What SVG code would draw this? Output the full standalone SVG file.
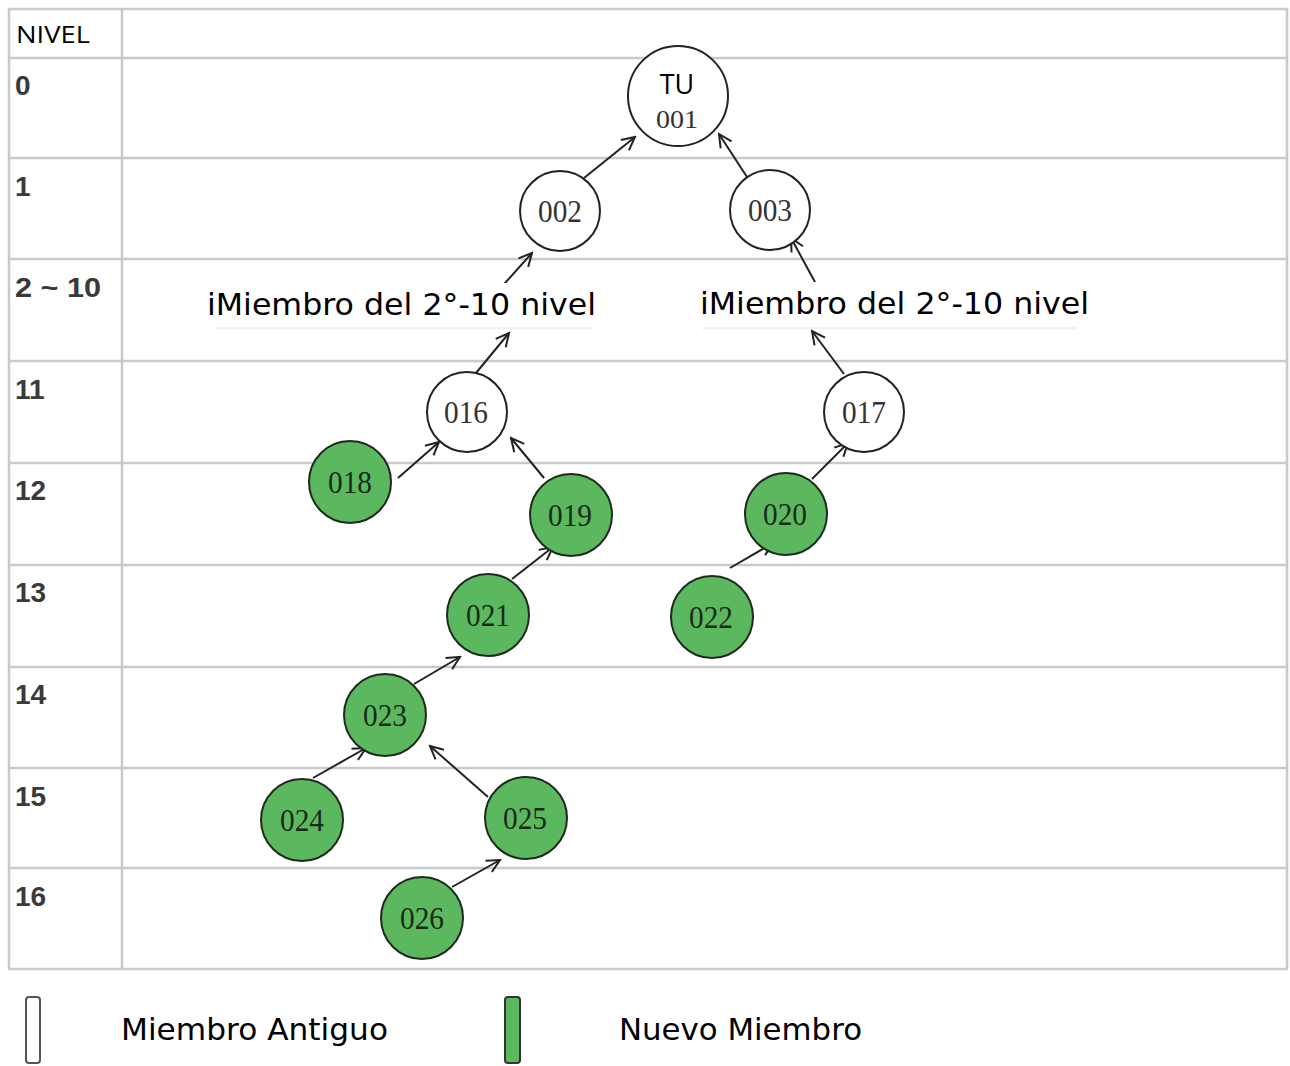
<svg xmlns="http://www.w3.org/2000/svg" width="1290" height="1066" viewBox="0 0 1290 1066">
<style>
.grid{stroke:#c9c9c9;stroke-width:2.5;fill:none}
.lvl{font-family:"Liberation Sans",Arial,sans-serif;font-size:28px;font-weight:bold;fill:#3a3a3a}
.old{fill:#ffffff;stroke:#222;stroke-width:2}
.new{fill:#5cb85f;stroke:#1e2a1e;stroke-width:2}
.num{font-family:"Liberation Serif","Times New Roman",serif;font-size:31px;fill:#333;text-anchor:middle}
.numg{font-family:"Liberation Serif","Times New Roman",serif;font-size:31px;fill:#1a2a1a;text-anchor:middle}
.lbl{font-family:"DejaVu Sans",sans-serif;font-size:31px;fill:#000}
.conn line{stroke:#222;stroke-width:2;marker-end:url(#arr)}
</style>
<defs>
<marker id="arr" markerUnits="userSpaceOnUse" markerWidth="16" markerHeight="16" viewBox="0 0 16 16" refX="14" refY="8" orient="auto">
<path d="M1,1.5 L14,8 L1,14.5" fill="none" stroke="#222" stroke-width="2"/>
</marker>
</defs>
<rect width="1290" height="1066" fill="#fff"/>
<g id="grid">
<rect class="grid" x="9" y="9" width="1278" height="960"/>
<line class="grid" x1="122" y1="9" x2="122" y2="969"/>
<line class="grid" x1="9" y1="58" x2="1287" y2="58"/>
<line class="grid" x1="9" y1="158" x2="1287" y2="158"/>
<line class="grid" x1="9" y1="259" x2="1287" y2="259"/>
<line class="grid" x1="9" y1="361" x2="1287" y2="361"/>
<line class="grid" x1="9" y1="463" x2="1287" y2="463"/>
<line class="grid" x1="9" y1="565" x2="1287" y2="565"/>
<line class="grid" x1="9" y1="667" x2="1287" y2="667"/>
<line class="grid" x1="9" y1="768" x2="1287" y2="768"/>
<line class="grid" x1="9" y1="868" x2="1287" y2="868"/>
</g>
<g id="levels">
<rect x="14" y="18" width="78" height="31" fill="#fff"/>
<text x="16" y="43" font-family="'Open Sans','DejaVu Sans',sans-serif" font-size="23" fill="#000" textLength="74" lengthAdjust="spacingAndGlyphs">NIVEL</text>
<text class="lvl" x="15" y="95">0</text>
<text class="lvl" x="15" y="196">1</text>
<text class="lvl" x="15" y="297" textLength="86" lengthAdjust="spacingAndGlyphs">2 ~ 10</text>
<text class="lvl" x="15" y="399">11</text>
<text class="lvl" x="15" y="500">12</text>
<text class="lvl" x="15" y="602">13</text>
<text class="lvl" x="15" y="704">14</text>
<text class="lvl" x="15" y="806">15</text>
<text class="lvl" x="15" y="906">16</text>
</g>
<g id="connectors" class="conn">
<line x1="584" y1="178" x2="635" y2="137"/>
<line x1="747" y1="177" x2="719" y2="134"/>
<line x1="497" y1="292" x2="532" y2="253"/>
<line x1="476" y1="373" x2="509" y2="333"/>
<line x1="815" y1="282" x2="791" y2="238"/>
<line x1="844" y1="374" x2="812" y2="331"/>
<line x1="398" y1="478" x2="439" y2="442"/>
<line x1="544" y1="478" x2="511" y2="438"/>
<line x1="512" y1="579" x2="553" y2="547"/>
<line x1="812" y1="479" x2="848" y2="443"/>
<line x1="730" y1="568" x2="773" y2="543"/>
<line x1="414" y1="684" x2="460" y2="657"/>
<line x1="313" y1="778" x2="366" y2="748"/>
<line x1="488" y1="797" x2="430" y2="746"/>
<line x1="452" y1="887" x2="500" y2="860"/>
</g>
<g id="label-left">
<rect x="204" y="283" width="396" height="45" fill="#fff"/>
<line x1="215" y1="328" x2="592" y2="328" stroke="#e2e2e2" stroke-width="1"/>
<text class="lbl" x="207" y="315" textLength="389" lengthAdjust="spacingAndGlyphs">iMiembro del 2°-10 nivel</text>
</g>
<g id="label-right">
<rect x="697" y="283" width="396" height="45" fill="#fff"/>
<line x1="702" y1="328" x2="1076" y2="328" stroke="#e2e2e2" stroke-width="1"/>
<text class="lbl" x="700" y="314" textLength="389" lengthAdjust="spacingAndGlyphs">iMiembro del 2°-10 nivel</text>
</g>
<g id="n001">
<circle class="old" cx="678" cy="96" r="50"/>
<rect x="644" y="71" width="66" height="30" fill="#fff"/>
<text x="677" y="94" font-family="'Open Sans','DejaVu Sans',sans-serif" font-size="27" fill="#000" text-anchor="middle">TU</text>
<text class="num" x="677" y="128" font-size="26" style="font-size:26px" textLength="42" lengthAdjust="spacingAndGlyphs">001</text>
</g>
<g id="n002"><circle class="old" cx="560" cy="211" r="40"/><text class="num" x="560" y="222" textLength="44" lengthAdjust="spacingAndGlyphs">002</text></g>
<g id="n003"><circle class="old" cx="770" cy="210" r="40"/><text class="num" x="770" y="221" textLength="44" lengthAdjust="spacingAndGlyphs">003</text></g>
<g id="n016"><circle class="old" cx="467" cy="412" r="40"/><text class="num" x="466" y="423" textLength="44" lengthAdjust="spacingAndGlyphs">016</text></g>
<g id="n017"><circle class="old" cx="864" cy="412" r="40"/><text class="num" x="864" y="423" textLength="44" lengthAdjust="spacingAndGlyphs">017</text></g>
<g id="n018"><circle class="new" cx="350" cy="482" r="41"/><text class="numg" x="350" y="493" textLength="44" lengthAdjust="spacingAndGlyphs">018</text></g>
<g id="n019"><circle class="new" cx="571" cy="515" r="41"/><text class="numg" x="570" y="526" textLength="44" lengthAdjust="spacingAndGlyphs">019</text></g>
<g id="n020"><circle class="new" cx="786" cy="514" r="41"/><text class="numg" x="785" y="525" textLength="44" lengthAdjust="spacingAndGlyphs">020</text></g>
<g id="n021"><circle class="new" cx="488" cy="615" r="41"/><text class="numg" x="488" y="626" textLength="44" lengthAdjust="spacingAndGlyphs">021</text></g>
<g id="n022"><circle class="new" cx="712" cy="617" r="41"/><text class="numg" x="711" y="628" textLength="44" lengthAdjust="spacingAndGlyphs">022</text></g>
<g id="n023"><circle class="new" cx="385" cy="715" r="41"/><text class="numg" x="385" y="726" textLength="44" lengthAdjust="spacingAndGlyphs">023</text></g>
<g id="n024"><circle class="new" cx="302" cy="820" r="41"/><text class="numg" x="302" y="831" textLength="44" lengthAdjust="spacingAndGlyphs">024</text></g>
<g id="n025"><circle class="new" cx="526" cy="818" r="41"/><text class="numg" x="525" y="829" textLength="44" lengthAdjust="spacingAndGlyphs">025</text></g>
<g id="n026"><circle class="new" cx="422" cy="918" r="41"/><text class="numg" x="422" y="929" textLength="44" lengthAdjust="spacingAndGlyphs">026</text></g>
<g id="legend">
<rect x="26" y="997" width="14" height="66" rx="3" fill="#fff" stroke="#555" stroke-width="2"/>
<text class="lbl" x="121" y="1040" textLength="267" lengthAdjust="spacingAndGlyphs">Miembro Antiguo</text>
<rect x="505" y="997" width="15" height="66" rx="3" fill="#5cb85f" stroke="#333" stroke-width="2"/>
<text class="lbl" x="619" y="1040" textLength="243" lengthAdjust="spacingAndGlyphs">Nuevo Miembro</text>
</g>
</svg>
